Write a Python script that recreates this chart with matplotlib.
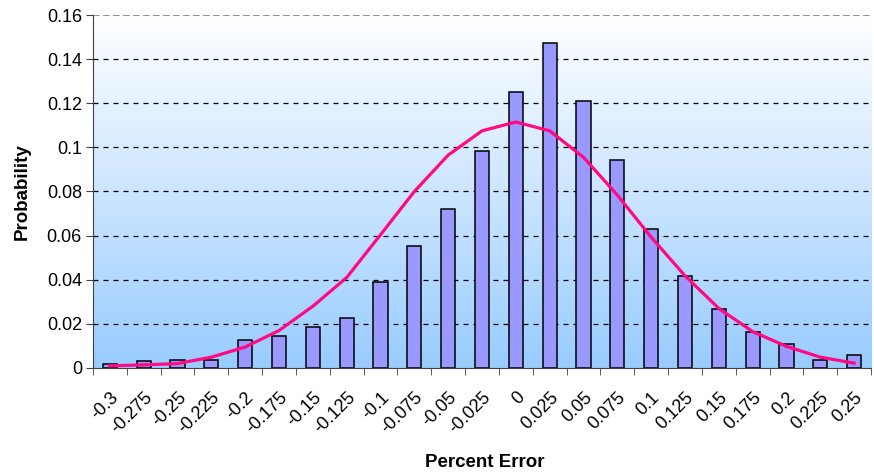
import matplotlib
matplotlib.use('Agg')
import matplotlib.pyplot as plt
import numpy as np

# Datos
categorias = ['-0.3', '-0.275', '-0.25', '-0.225', '-0.2', '-0.175', '-0.15', '-0.125',
              '-0.1', '-0.075', '-0.05', '-0.025', '0', '0.025', '0.05', '0.075', '0.1',
              '0.125', '0.15', '0.175', '0.2', '0.225', '0.25']
probabilidad = [0.002, 0.003, 0.0035, 0.0035, 0.0125, 0.0143, 0.0185, 0.0226,
                0.039, 0.0555, 0.072, 0.0985, 0.125, 0.1475, 0.121, 0.0942,
                0.0628, 0.0416, 0.0268, 0.0165, 0.011, 0.0035, 0.0061]
normal = [0.001, 0.0014, 0.002, 0.0049, 0.0095, 0.017, 0.028, 0.041,
          0.0604, 0.080, 0.0965, 0.1075, 0.1115, 0.1075, 0.0955, 0.0784,
          0.0593, 0.0418, 0.027, 0.0165, 0.0098, 0.0049, 0.0022]
yticks = [0, 0.02, 0.04, 0.06, 0.08, 0.1, 0.12, 0.14, 0.16]
ytick_labels = ['0', '0.02', '0.04', '0.06', '0.08', '0.1', '0.12', '0.14', '0.16']

plt.rcParams['font.family'] = ['Liberation Sans', 'DejaVu Sans']

fig = plt.figure(figsize=(8.74, 4.75), dpi=100)
ax = fig.add_axes([0.1064, 0.2253, 0.8902, 0.7431])

x = np.arange(len(categorias))
ax.set_xlim(-0.5, len(categorias) - 0.5)
ax.set_ylim(0, 0.16)

# Fondo degradado blanco -> azul claro
grad = np.linspace(0, 1, 256).reshape(-1, 1)
top = np.array([1.0, 1.0, 1.0])
bottom = np.array([153, 204, 255]) / 255
img = top + (bottom - top) * grad[..., None]
ax.imshow(img, extent=[-0.5, len(categorias) - 0.5, 0, 0.16], aspect='auto',
          origin='upper', zorder=0)

# Lineas de la rejilla
for yv in yticks[1:-1]:
    ax.axhline(yv, color='black', linestyle=(0, (4, 4)), linewidth=0.9, zorder=1)
ax.axhline(0.16, color='#808080', linestyle=(0, (4, 2)), linewidth=1.2, zorder=1)

ax.bar(x, probabilidad, width=0.42, color='#9999FF', edgecolor='black',
       linewidth=1.1, zorder=2)
ax.plot(x, normal, color='#FF0A82', linewidth=2.3, zorder=3)

ax.set_yticks(yticks)
ax.set_yticklabels(ytick_labels, fontsize=13)
ax.set_xticks(x)
ax.set_xticklabels(categorias, rotation=45, ha='right', va='top',
                   rotation_mode='anchor', fontsize=13)
ax.tick_params(axis='x', which='major', length=0, pad=15)
ax.set_xticks(np.arange(len(categorias) + 1) - 0.5, minor=True)
ax.tick_params(axis='x', which='minor', length=5, color='#404040', direction='out')
ax.tick_params(axis='y', length=5, color='#404040', direction='out', pad=3)

for s in ['top', 'right']:
    ax.spines[s].set_visible(False)
ax.spines['left'].set_color('#404040')
ax.spines['bottom'].set_color('#404040')

ax.set_xlabel('Percent Error', fontsize=13.5, fontweight='bold')
ax.set_ylabel('Probability', fontsize=13.5, fontweight='bold')
ax.xaxis.set_label_coords(0.504, -0.245)
ax.yaxis.set_label_coords(-0.080, 0.5)

fig.savefig('out.png', dpi=100)
